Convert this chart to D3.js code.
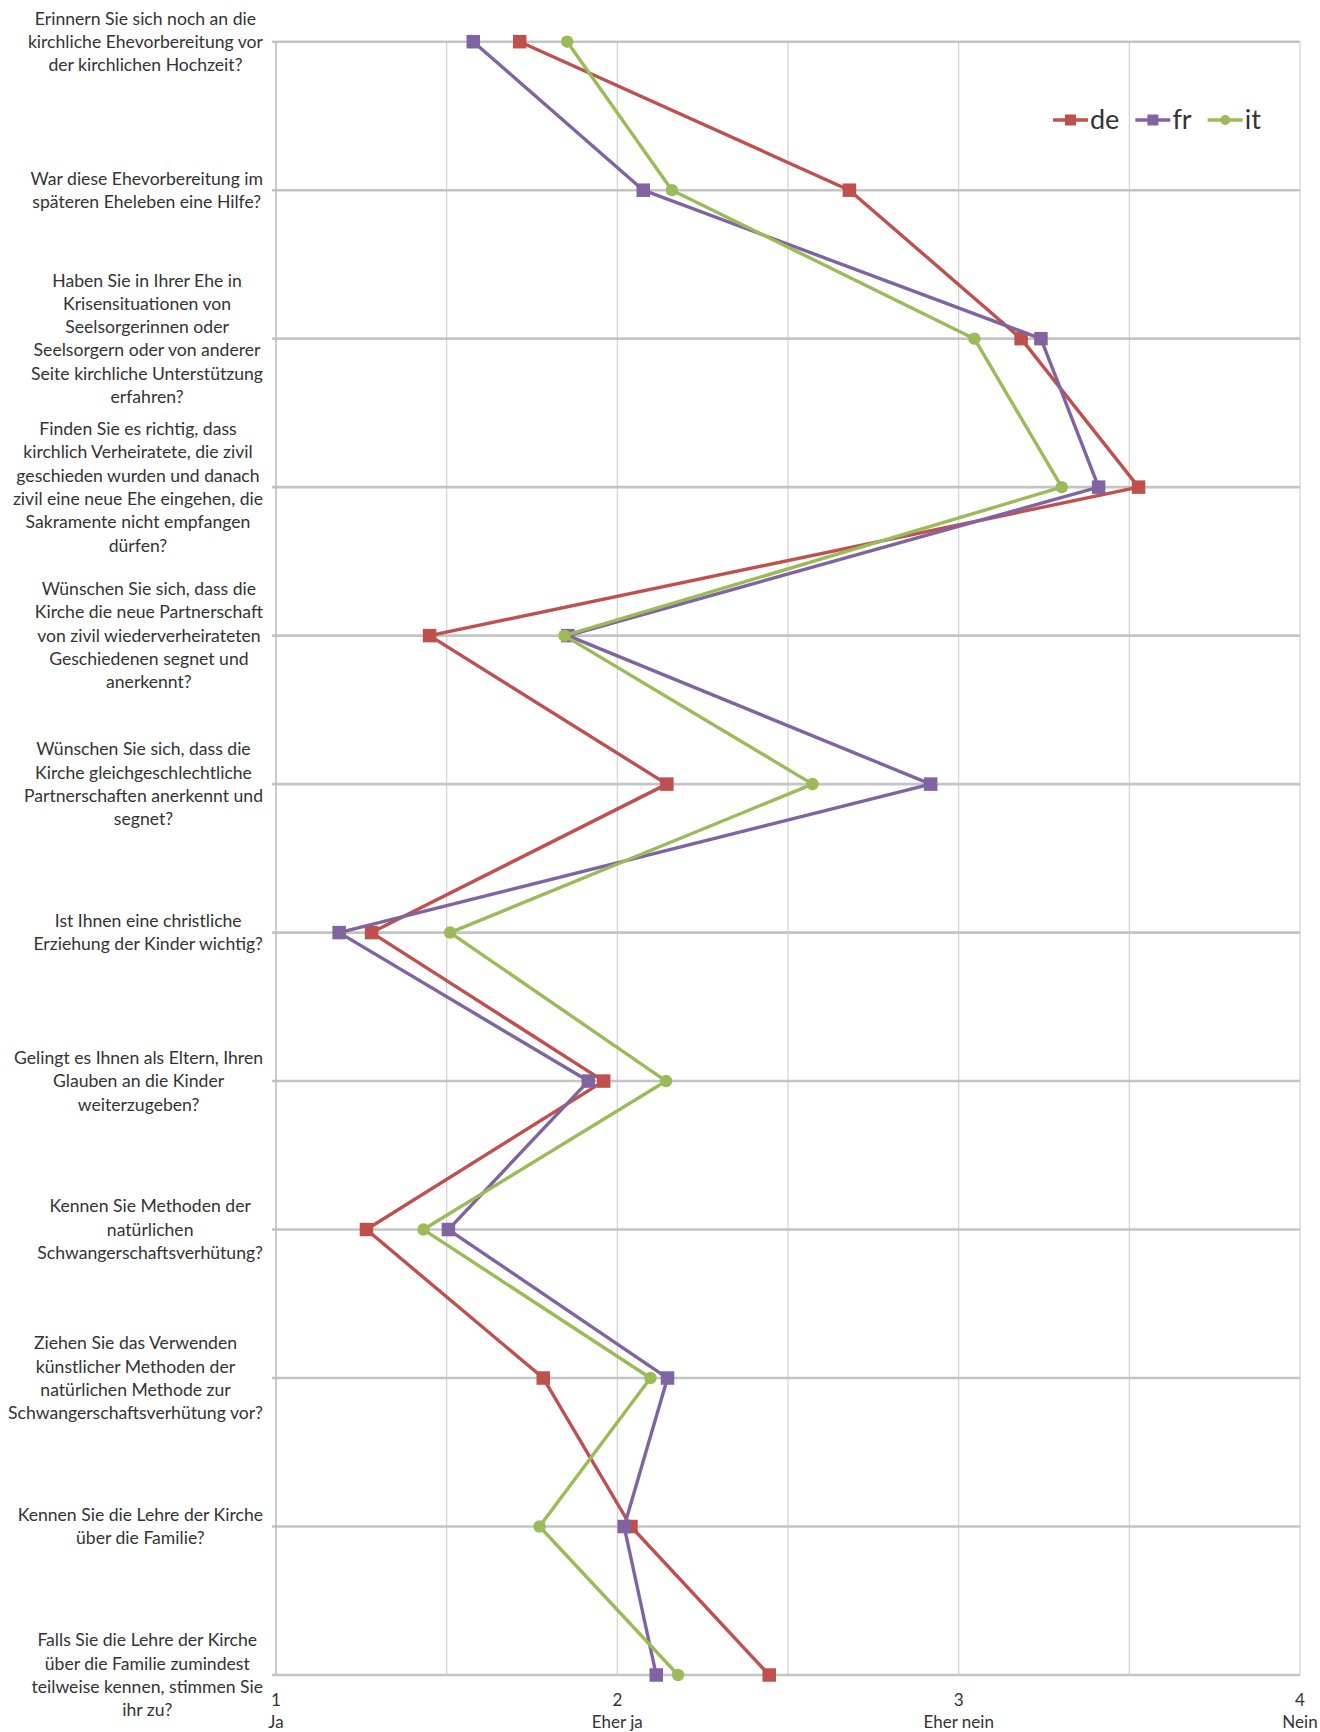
<!DOCTYPE html>
<html>
<head>
<meta charset="utf-8">
<script src="https://cdn.jsdelivr.net/npm/d3@7"></script>
<style>
  body { margin: 0; background: #fff; }
  svg { display: block; }
  text { font-family: Lato, "Open Sans", "Liberation Sans", sans-serif; fill: #333; }
</style>
</head>
<body>
<svg id="chart" width="1320" height="1732"></svg>
<script>
// Survey questions (one entry per row, already broken into lines)
const questions = [
  ["Erinnern Sie sich noch an die", "kirchliche Ehevorbereitung vor", "der kirchlichen Hochzeit?"],
  ["War diese Ehevorbereitung im", "späteren Eheleben eine Hilfe?"],
  ["Haben Sie in Ihrer Ehe in", "Krisensituationen von", "Seelsorgerinnen oder", "Seelsorgern oder von anderer", "Seite kirchliche Unterstützung", "erfahren?"],
  ["Finden Sie es richtig, dass", "kirchlich Verheiratete, die zivil", "geschieden wurden und danach", "zivil eine neue Ehe eingehen, die", "Sakramente nicht empfangen", "dürfen?"],
  ["Wünschen Sie sich, dass die", "Kirche die neue Partnerschaft", "von zivil wiederverheirateten", "Geschiedenen segnet und", "anerkennt?"],
  ["Wünschen Sie sich, dass die", "Kirche gleichgeschlechtliche", "Partnerschaften anerkennt und", "segnet?"],
  ["Ist Ihnen eine christliche", "Erziehung der Kinder wichtig?"],
  ["Gelingt es Ihnen als Eltern, Ihren", "Glauben an die Kinder", "weiterzugeben?"],
  ["Kennen Sie Methoden der", "natürlichen", "Schwangerschaftsverhütung?"],
  ["Ziehen Sie das Verwenden", "künstlicher Methoden der", "natürlichen Methode zur", "Schwangerschaftsverhütung vor?"],
  ["Kennen Sie die Lehre der Kirche", "über die Familie?"],
  ["Falls Sie die Lehre der Kirche", "über die Familie zumindest", "teilweise kennen, stimmen Sie", "ihr zu?"]
];

// Answer scale (1 = Ja ... 4 = Nein)
const scaleTicks = [1, 2, 3, 4];
const scaleLabels = ["Ja", "Eher ja", "Eher nein", "Nein"];

// Mean answers per language region
const seriesNames = ["de", "fr", "it"];
const deValues = [1.714, 2.680, 3.183, 3.527, 1.450, 2.145, 1.280, 1.960, 1.265, 1.783, 2.040, 2.445];
const frValues = [1.578, 2.076, 3.241, 3.410, 1.855, 2.918, 1.185, 1.915, 1.505, 2.147, 2.020, 2.114];
const itValues = [1.853, 2.160, 3.046, 3.302, 1.845, 2.572, 1.510, 2.143, 1.432, 2.097, 1.772, 2.178];
const seriesColors = ["#c0504d", "#8064a2", "#9bbb59"];
const seriesMarkers = ["square", "square", "circle"];

const series = seriesNames.map((name, i) => ({
  name,
  values: [deValues, frValues, itValues][i],
  color: seriesColors[i],
  marker: seriesMarkers[i]
}));

const svg = d3.select("#chart");
const plot = { left: 276, right: 1300, top: 41.7, bottom: 1675 };
const labelRight = 263;
const lineH = 23.3;

const x = d3.scaleLinear().domain([1, 4]).range([plot.left, plot.right]);
const y = d3.scalePoint().domain(d3.range(questions.length)).range([plot.top, plot.bottom]);

// Vertical gridlines every half step
const grid = svg.append("g");
grid.selectAll("line.v")
  .data(d3.range(1.5, 4.01, 0.5))
  .join("line")
  .attr("x1", d => x(d)).attr("x2", d => x(d))
  .attr("y1", plot.top).attr("y2", plot.bottom)
  .attr("stroke", "#d6d6d6").attr("stroke-width", 1.3);

// Horizontal gridlines, one per question, with a short outside tick
grid.selectAll("line.h")
  .data(y.domain())
  .join("line")
  .attr("x1", plot.left - 4).attr("x2", plot.right)
  .attr("y1", d => y(d)).attr("y2", d => y(d))
  .attr("stroke", "#c4c4c4").attr("stroke-width", 2.6);

// Value axis line on the left
grid.append("line")
  .attr("x1", plot.left).attr("x2", plot.left)
  .attr("y1", plot.top).attr("y2", plot.bottom)
  .attr("stroke", "#bdbdbd").attr("stroke-width", 1.6);

// Question labels: block right-aligned against the axis, lines centred in the block
const qLabels = svg.append("g").attr("font-size", 17.6);
questions.forEach((lines, i) => {
  const t = qLabels.append("text").attr("text-anchor", "middle");
  const n = lines.length;
  const spans = lines.map((ln, k) =>
    t.append("tspan")
      .attr("y", y(i) + (k - (n - 1) / 2) * lineH)
      .attr("dy", "0.35em")
      .text(ln));
  const maxW = d3.max(spans, s => s.node().getComputedTextLength());
  const cx = labelRight - maxW / 2;
  spans.forEach(s => s.attr("x", cx));
});

// Scale labels under the plot
const xLabels = svg.append("g").attr("font-size", 17).attr("text-anchor", "middle");
scaleTicks.forEach((v, i) => {
  const t = xLabels.append("text");
  t.append("tspan").attr("x", x(v)).attr("y", 1700).attr("dy", "0.35em").text(v);
  t.append("tspan").attr("x", x(v)).attr("y", 1722).attr("dy", "0.35em").text(scaleLabels[i]);
});

// Lines and markers
const line = d3.line().x(d => x(d)).y((d, i) => y(i));
const drawMarker = (g, kind, cx, cy, size, color) => {
  if (kind === "circle") {
    g.append("circle").attr("cx", cx).attr("cy", cy).attr("r", size / 2).attr("fill", color);
  } else {
    g.append("rect").attr("x", cx - size / 2).attr("y", cy - size / 2)
      .attr("width", size).attr("height", size).attr("fill", color);
  }
};

series.forEach(s => {
  const g = svg.append("g");
  g.append("path")
    .attr("d", line(s.values))
    .attr("fill", "none")
    .attr("stroke", s.color)
    .attr("stroke-width", 3.4)
    .attr("stroke-linejoin", "round");
  s.values.forEach((v, i) => drawMarker(g, s.marker, x(v), y(i), s.marker === "circle" ? 12.5 : 13.5, s.color));
});

// Legend
const legend = svg.append("g").attr("font-size", 27);
let lx = 1053;
const ly = 120;
series.forEach(s => {
  const g = legend.append("g");
  g.append("line").attr("x1", lx).attr("x2", lx + 35).attr("y1", ly).attr("y2", ly)
    .attr("stroke", s.color).attr("stroke-width", 3.4);
  drawMarker(g, s.marker, lx + 17.5, ly, s.marker === "circle" ? 10 : 11, s.color);
  const t = g.append("text").attr("x", lx + 37).attr("y", ly).attr("dy", "0.35em").text(s.name);
  lx += 37 + t.node().getComputedTextLength() + 16;
});
</script>
</body>
</html>
